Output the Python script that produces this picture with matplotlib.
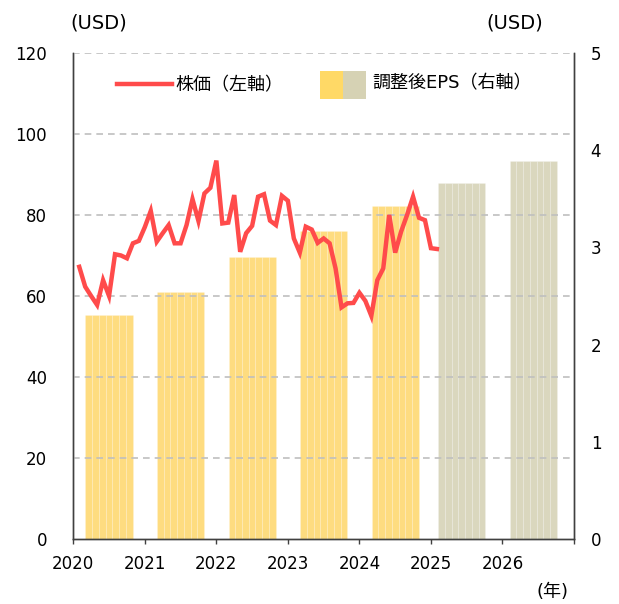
import numpy as np
import matplotlib.pyplot as plt
from matplotlib.patches import Rectangle
from matplotlib.lines import Line2D

plt.rcParams['font.family'] = ['DejaVu Sans', 'Noto Sans CJK JP']

# Monthly stock price (USD, left axis), Feb 2020 - Feb 2025
price_month_idx = np.arange(1, 62)
price = [67.2, 62.3, 60.0, 57.8, 63.9, 60.0, 70.3, 70.0, 69.3, 73.0, 73.6,
         77.0, 81.0, 73.4, 75.5, 77.5, 73.0, 73.0, 77.5, 83.9, 78.5, 85.3,
         86.7, 93.4, 77.9, 78.1, 84.9, 70.9, 75.5, 77.3, 84.5, 85.1, 78.6,
         77.5, 84.7, 83.5, 74.2, 70.7, 77.1, 76.4, 73.1, 74.2, 73.0, 66.8,
         57.2, 58.2, 58.3, 60.8, 58.8, 55.1, 63.9, 66.8, 80.0, 70.7, 75.9,
         80.0, 84.5, 79.3, 78.7, 71.8, 71.6]

# Adjusted EPS (USD, right axis)
eps_years = [2020, 2021, 2022, 2023, 2024, 2025, 2026]
eps = [2.30, 2.54, 2.90, 3.17, 3.43, 3.66, 3.89]
eps_forecast = [False, False, False, False, False, True, True]

c_actual = '#FFD966'
c_fcst = '#D6D2B4'
c_bar_actual = '#FEDC80'
c_bar_fcst = '#DAD7BE'
c_line = '#FF4B4B'

fig = plt.figure(figsize=(6.19, 6.04), dpi=100)
ax = fig.add_axes([0.1184, 0.1071, 0.8089, 0.8056])
ax2 = ax.twinx()
ax.set_zorder(ax2.get_zorder() + 1)
ax.patch.set_visible(False)

# EPS bars, each split into thin slices
n_sub = 7
bar_w = 0.66
for yr, v, f in zip(eps_years, eps, eps_forecast):
    left = yr + (0.10 if f else 0.17)
    col = c_bar_fcst if f else c_bar_actual
    for k in range(n_sub):
        ax2.bar(left + k * bar_w / n_sub, v, width=bar_w / n_sub, align='edge',
                color=col, edgecolor=(1, 1, 1, 0.22), linewidth=0.5)

# Price line
x_price = 2020 + price_month_idx / 12
ax.plot(x_price, price, color=c_line, lw=3.2, solid_joinstyle='miter', zorder=5)

ax.set_xlim(2020, 2027)
ax.set_ylim(0, 120)
ax2.set_ylim(0, 5)
ax.set_yticks(np.arange(0, 121, 20))
ax2.set_yticks(np.arange(0, 6, 1))
ax.set_xticks(np.arange(2020, 2028, 1))
ax.set_xticklabels([str(y) for y in range(2020, 2027)] + [''])

for y in np.arange(20, 121, 20):
    ax.axhline(y, color='#BFBFBF', lw=1.2, ls=(0, (4, 3)), zorder=0)

for a in (ax, ax2):
    a.spines['top'].set_visible(False)
    for s in ('left', 'right', 'bottom'):
        a.spines[s].set_color('#404040')
        a.spines[s].set_linewidth(1.0)
ax.tick_params(axis='y', length=0, labelsize=12, pad=19)
ax2.tick_params(axis='y', length=0, labelsize=12, pad=12)
ax.tick_params(axis='x', length=3.6, width=1, color='#404040', labelsize=12, pad=8)

fig.text(0.16, 0.962, '(USD)', ha='center', va='center', fontsize=14)
fig.text(0.832, 0.962, '(USD)', ha='center', va='center', fontsize=14)
fig.text(0.893, 0.02, '(年)', ha='center', va='center', fontsize=13)

# Legend drawn by hand
ax.add_line(Line2D([0.087, 0.197], [0.935, 0.935], transform=ax.transAxes,
                   color=c_line, lw=3.2))
ax.text(0.203, 0.933, '株価（左軸）', transform=ax.transAxes, va='center',
        fontsize=13)
ax.add_patch(Rectangle((0.493, 0.905), 0.046, 0.058, transform=ax.transAxes,
                       color=c_actual, lw=0))
ax.add_patch(Rectangle((0.539, 0.905), 0.046, 0.058, transform=ax.transAxes,
                       color=c_fcst, lw=0))
ax.text(0.597, 0.937, '調整後EPS（右軸）', transform=ax.transAxes, va='center',
        fontsize=13)

fig.savefig('out.png', dpi=100)
